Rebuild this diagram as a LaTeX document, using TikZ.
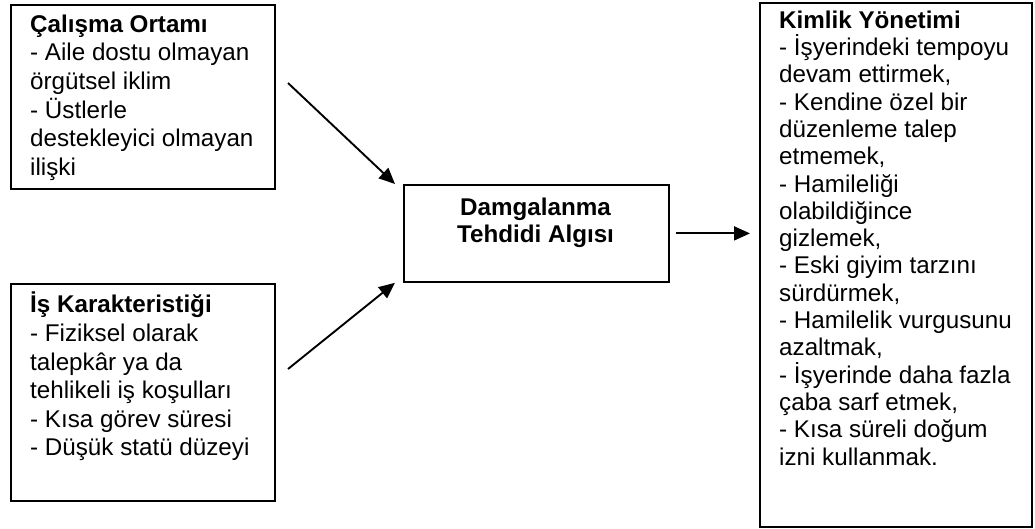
\documentclass[tikz,border=0pt]{standalone}
\usepackage{fontspec}
\setmainfont{Liberation Sans}
\usetikzlibrary{arrows.meta}

% body text size with a given line pitch
\newcommand\diafont[1]{\fontsize{24.2pt}{#1}\selectfont}

\tikzset{
  frame/.style={draw=black, line width=1.8pt, fill=none, inner sep=0pt,
                anchor=north west},
  boxtext/.style={inner sep=0pt, align=left, anchor=north west,
                  font={\diafont{#1}}, execute at begin node=\strut},
  boxtext/.default=28.6pt,
  centertext/.style={inner sep=0pt, align=center, anchor=north,
                     font={\diafont{27pt}\bfseries}, execute at begin node=\strut},
  arr/.style={line width=1.9pt,
              -{Triangle[length=16pt,width=14pt]}}
}

\begin{document}
\begin{tikzpicture}[x=1pt,y=-1pt]
  \useasboundingbox (0,0) rectangle (1035,529);

  % input boxes on the left
  \node[frame, minimum width=264pt, minimum height=184pt] (env) at (10,4) {};
  \node[boxtext] (envtext) at (30,14.5) {\textbf{Çalışma Ortamı}\\
    - Aile dostu olmayan\\
    örgütsel iklim\\
    - Üstlerle\\
    destekleyici olmayan\\
    ilişki};

  \node[frame, minimum width=264pt, minimum height=217pt] (job) at (10,283) {};
  \node[boxtext] (jobtext) at (30,292) {\textbf{İş Karakteristiği}\\
    - Fiziksel olarak\\
    talepkâr ya da\\
    tehlikeli iş koşulları\\
    - Kısa görev süresi\\
    - Düşük statü düzeyi};

  % central construct
  \node[frame, minimum width=265pt, minimum height=97pt] (damg) at (403,184) {};
  \node[centertext] (damgtext) at (535.5,197.5) {Damgalanma\\Tehdidi Algısı};

  % outcome box on the right
  \node[frame, minimum width=272pt, minimum height=524pt] (kim) at (759,2) {};
  \node[boxtext=27.3pt] (kimtext) at (779,10.5) {\textbf{Kimlik Yönetimi}\\
    - İşyerindeki tempoyu\\
    devam ettirmek,\\
    - Kendine özel bir\\
    düzenleme talep\\
    etmemek,\\
    - Hamileliği\\
    olabildiğince\\
    gizlemek,\\
    - Eski giyim tarzını\\
    sürdürmek,\\
    - Hamilelik vurgusunu\\
    azaltmak,\\
    - İşyerinde daha fazla\\
    çaba sarf etmek,\\
    - Kısa süreli doğum\\
    izni kullanmak.};

  % connectors
  \coordinate (envout) at (288,83);
  \coordinate (jobout) at (288,369);
  \draw[arr] (envout) -- ([xshift=-8pt]damg.north west);
  \draw[arr] (jobout) -- ([xshift=-8pt]damg.south west);
  \draw[arr] ([xshift=6pt]damg.east) -- ([xshift=-9pt]damg.east -| kim.west);
\end{tikzpicture}
\end{document}
